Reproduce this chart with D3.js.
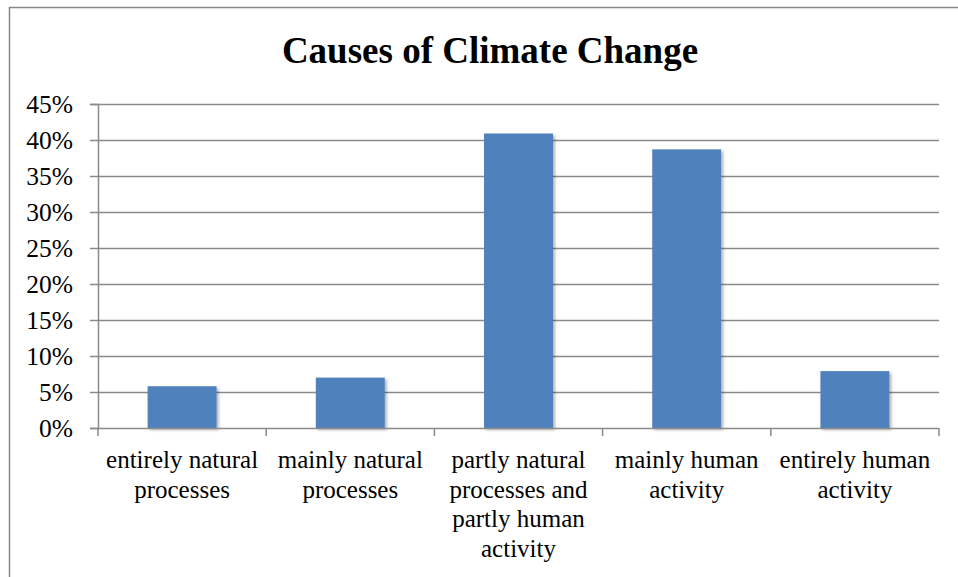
<!DOCTYPE html>
<html>
<head>
<meta charset="utf-8">
<script src="https://cdn.jsdelivr.net/npm/d3@7"></script>
<style>
  body { margin: 0; background: #fff; }
  svg text { font-family: "Liberation Serif", "DejaVu Serif", serif; }
</style>
</head>
<body>
<div id="chart"></div>
<script>
'use strict';

const categories = [
  "entirely natural processes",
  "mainly natural processes",
  "partly natural processes and partly human activity",
  "mainly human activity",
  "entirely human activity"
];
// how the category labels break across lines
const categoryLines = [
  ["entirely natural", "processes"],
  ["mainly natural", "processes"],
  ["partly natural", "processes and", "partly human", "activity"],
  ["mainly human", "activity"],
  ["entirely human", "activity"]
];
const shares = [0.058, 0.07, 0.409, 0.387, 0.079];
const yTicks = [0, 0.05, 0.1, 0.15, 0.2, 0.25, 0.3, 0.35, 0.4, 0.45];
const title = "Causes of Climate Change";

const width = 958;
const height = 577;
const margin = { top: 104, right: 19, bottom: 149, left: 98 };
const serif = "Liberation Serif";

const svg = d3.select("#chart").append("svg")
  .attr("width", width)
  .attr("height", height);

// drop shadow for bars
const defs = svg.append("defs");
const shadow = defs.append("filter").attr("id", "shadow")
  .attr("x", "-10%").attr("y", "-10%").attr("width", "130%").attr("height", "130%");
shadow.append("feDropShadow")
  .attr("dx", 2).attr("dy", 2).attr("stdDeviation", 1.5)
  .attr("flood-color", "#000").attr("flood-opacity", 0.3);

// chart area border
svg.append("rect")
  .attr("x", 9.5).attr("y", 7.5)
  .attr("width", width + 20).attr("height", height + 20)
  .attr("fill", "none")
  .attr("stroke", "#878787")
  .attr("stroke-width", 1.5);

svg.append("text")
  .attr("x", 490)
  .attr("y", 63)
  .attr("text-anchor", "middle")
  .attr("font-family", serif)
  .attr("font-size", 37)
  .attr("font-weight", "bold")
  .text(title);

const x = d3.scaleBand()
  .domain(categories)
  .range([margin.left, width - margin.right])
  .paddingInner(0.59)
  .paddingOuter(0.295);

const y = d3.scaleLinear()
  .domain([0, 0.45])
  .range([height - margin.bottom, margin.top]);

// gridlines
svg.append("g")
  .selectAll("line")
  .data(yTicks.filter(d => d > 0))
  .enter().append("line")
  .attr("x1", margin.left)
  .attr("x2", width - margin.right)
  .attr("y1", d => Math.round(y(d)) + 0.5)
  .attr("y2", d => Math.round(y(d)) + 0.5)
  .attr("stroke", "#8a8a8a")
  .attr("stroke-width", 1.5);

// y axis
const yAxis = svg.append("g")
  .attr("transform", `translate(${margin.left},0)`)
  .call(d3.axisLeft(y).tickValues(yTicks).tickFormat(d3.format(".0%")).tickSize(8).tickPadding(17));
yAxis.attr("font-family", serif).attr("font-size", 25.5);
yAxis.select(".domain").attr("stroke", "#8a8a8a").attr("stroke-width", 1.5);
yAxis.selectAll(".tick line").attr("stroke", "#8a8a8a").attr("stroke-width", 1.5);
yAxis.selectAll(".tick text").attr("fill", "#000");

// bars
svg.append("g")
  .selectAll("rect")
  .data(categories)
  .enter().append("rect")
  .attr("x", d => x(d))
  .attr("width", x.bandwidth())
  .attr("y", (d, i) => y(shares[i]))
  .attr("height", (d, i) => y(0) - y(shares[i]))
  .attr("fill", "#4f81bd")
  .attr("filter", "url(#shadow)");

// x axis baseline and boundary ticks
const bounds = d3.range(categories.length + 1).map(i => margin.left + i * (width - margin.left - margin.right) / categories.length);
svg.append("line")
  .attr("x1", margin.left).attr("x2", width - margin.right)
  .attr("y1", y(0) + 0.5).attr("y2", y(0) + 0.5)
  .attr("stroke", "#8a8a8a").attr("stroke-width", 1.5);
svg.append("g")
  .selectAll("line")
  .data(bounds)
  .enter().append("line")
  .attr("x1", d => d).attr("x2", d => d)
  .attr("y1", y(0)).attr("y2", y(0) + 8)
  .attr("stroke", "#8a8a8a").attr("stroke-width", 1.5);

// category labels
svg.append("g")
  .attr("font-family", serif)
  .attr("font-size", 25)
  .selectAll("text")
  .data(categories)
  .enter().append("text")
  .attr("text-anchor", "middle")
  .attr("fill", "#000")
  .each(function (d, i) {
    const cx = x(d) + x.bandwidth() / 2;
    d3.select(this).selectAll("tspan")
      .data(categoryLines[i])
      .enter().append("tspan")
      .attr("x", cx)
      .attr("y", (t, j) => y(0) + 40 + j * 29.5)
      .text(t => t);
  });
</script>
</body>
</html>
